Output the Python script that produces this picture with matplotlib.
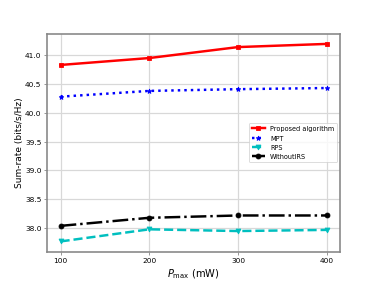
import matplotlib
matplotlib.use("Agg")
import matplotlib.pyplot as plt

pmax = [100, 200, 300, 400]
proposed = [40.83, 40.95, 41.14, 41.195]
mpt = [40.28, 40.38, 40.41, 40.43]
rps = [37.77, 37.98, 37.95, 37.97]
without_irs = [38.04, 38.18, 38.22, 38.22]

fig = plt.figure(figsize=(6.4, 4.8), dpi=378/6.4)
ax = fig.add_subplot(111)
ax.plot(pmax, proposed, 'rs-', lw=3, ms=6, label='Proposed algorithm')
ax.plot(pmax, mpt, 'b*:', lw=3, ms=6, label='MPT')
ax.plot(pmax, rps, 'cv--', lw=3, ms=6, label='RPS')
ax.plot(pmax, without_irs, 'ko-.', lw=3, ms=6, label='WithoutIRS')
ax.set_xticks(pmax)
ax.set_ylim(37.59, 41.375)
ax.grid(True, lw=1.5, color='#d8d8d8')
ax.tick_params(labelsize=9, color='#666666')
for s in ax.spines.values():
    s.set_color('#888888')
    s.set_linewidth(2)
ax.set_xlabel(r'$P_{\max}$ (mW)', fontsize=12)
ax.set_ylabel('Sum-rate (bits/s/Hz)', fontsize=11, labelpad=1)
ax.legend(loc='center right', fontsize=8)
fig.savefig('out.png', dpi=378/6.4)
